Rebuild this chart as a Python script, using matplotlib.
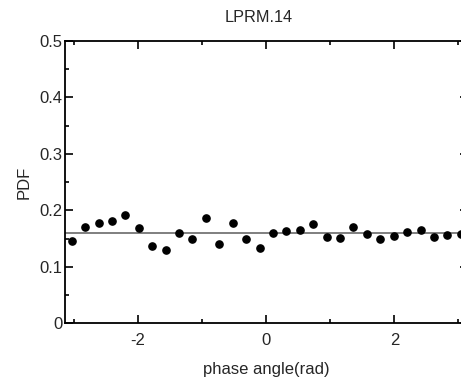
import numpy as np
import matplotlib
matplotlib.use("Agg")
import matplotlib.pyplot as plt
from matplotlib.ticker import MultipleLocator

plt.rcParams['font.family'] = ['Liberation Sans', 'DejaVu Sans']
plt.rcParams['axes.unicode_minus'] = False

title = "LPRM.14"
n_bins = 30
bin_edges = np.linspace(-np.pi, np.pi, n_bins + 1)
phase = 0.5 * (bin_edges[:-1] + bin_edges[1:])
pdf = [0.1452, 0.1711, 0.1771, 0.1812, 0.1913, 0.1693, 0.1369, 0.1293,
       0.1605, 0.1498, 0.1870, 0.1410, 0.1771, 0.1498, 0.1339, 0.1605,
       0.1635, 0.1658, 0.1753, 0.1523, 0.1516, 0.1700, 0.1576, 0.1498,
       0.1552, 0.1612, 0.1647, 0.1523, 0.1564, 0.1576]
uniform_level = 1.0 / (2 * np.pi)
ytick_vals = [0, 0.1, 0.2, 0.3, 0.4, 0.5]
ytick_labels = ['0', '0.1', '0.2', '0.3', '0.4', '0.5']

W, H = 461, 385
fig = plt.figure(figsize=(W / 100, H / 100), dpi=100)
ax = fig.add_axes([65 / W, (H - 323.3) / H, (467.5 - 65) / W, (323.3 - 41) / H])

ax.axhline(uniform_level, color='#6a6a6a', lw=1.2, zorder=1)
ax.plot(phase, pdf, 'o', color='black', ms=5.2, zorder=2)

ax.set_xlim(-np.pi, np.pi)
ax.set_ylim(0, 0.5)
ax.xaxis.set_major_locator(MultipleLocator(2))
ax.xaxis.set_minor_locator(MultipleLocator(1))
ax.yaxis.set_minor_locator(MultipleLocator(0.05))
ax.set_yticks(ytick_vals)
ax.set_yticklabels(ytick_labels)

ax.tick_params(which='both', direction='in', top=True, right=True,
               width=1.2, colors='black', labelcolor='#262626',
               labelsize=12)
ax.tick_params(axis='y', pad=2)
ax.tick_params(axis='x', pad=7)
ax.tick_params(which='major', length=6)
ax.tick_params(which='minor', length=3)
for s in ax.spines.values():
    s.set_linewidth(1.3)

ax.set_xlabel("phase angle(rad)", fontsize=12, color='#262626', labelpad=10)
ax.set_ylabel("PDF", fontsize=12, color='#262626', labelpad=5.5)
fig.text(259 / W, 1 - 18 / H, title, ha='center', va='center',
         fontsize=11.7, color='#262626')

fig.savefig("out.png", dpi=100)
